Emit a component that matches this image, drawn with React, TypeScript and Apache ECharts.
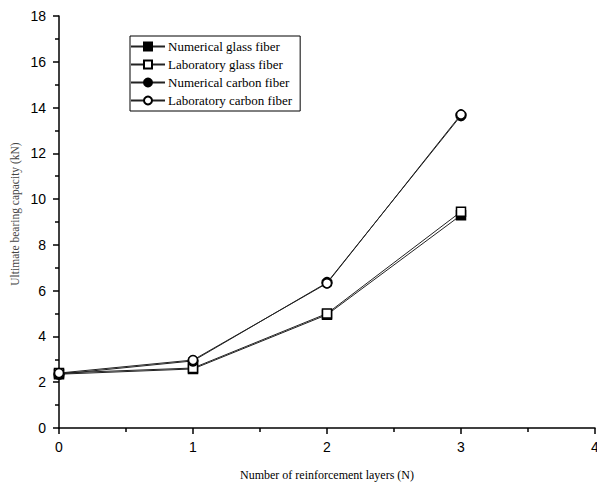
import React, { useEffect, useRef } from "react";
import * as echarts from "echarts";

const layers = [0, 1, 2, 3];
const numericalGlass = [2.35, 2.58, 4.95, 9.3];
const laboratoryGlass = [2.4, 2.62, 5.0, 9.45];
const numericalCarbon = [2.35, 2.93, 6.35, 13.65];
const laboratoryCarbon = [2.4, 2.97, 6.32, 13.7];
const seriesNames = [
  "Numerical glass fiber",
  "Laboratory glass fiber",
  "Numerical carbon fiber",
  "Laboratory carbon fiber",
];

const pair = (ys: number[]) => layers.map((x, i) => [x, ys[i]]);

export default function App() {
  const ref = useRef<HTMLDivElement>(null);
  useEffect(() => {
    if (!ref.current) return;
    const chart = echarts.init(ref.current, null, { renderer: "svg" });
    const mk = (
      name: string,
      data: number[],
      symbol: string,
      filled: boolean,
      size: number,
      z: number
    ) => ({
      name,
      type: "line",
      data: pair(data),
      symbol,
      symbolSize: size,
      showAllSymbol: true,
      z,
      lineStyle: { color: "#222", width: 1 },
      itemStyle: {
        color: filled ? "#000" : "#fff",
        borderColor: "#000",
        borderWidth: 1.5,
      },
      emphasis: { disabled: true },
    });
    chart.setOption({
      animation: false,
      backgroundColor: "#fff",
      grid: {
        left: 59,
        right: 2,
        top: 16,
        bottom: 54,
        containLabel: false,
        outerBoundsMode: "none",
      },
      legend: {
        orient: "vertical",
        left: 130,
        top: 36,
        padding: [4, 8, 4, 0],
        itemGap: 5,
        itemWidth: 34,
        itemHeight: 10,
        borderColor: "#000",
        borderWidth: 1,
        data: seriesNames,
        textStyle: {
          fontFamily: "Liberation Serif",
          fontSize: 13,
          color: "#000",
          padding: [0, 0, 0, -2],
        },
      },
      xAxis: {
        type: "value",
        min: 0,
        max: 4,
        interval: 1,
        name: "Number of reinforcement layers (N)",
        nameLocation: "middle",
        nameGap: 41,
        nameTextStyle: {
          fontFamily: "Liberation Serif",
          fontSize: 12,
          color: "#000",
        },
        axisLine: { lineStyle: { color: "#000", width: 1.5 } },
        axisTick: { show: true, length: 6, lineStyle: { color: "#000", width: 1.5 } },
        minorTick: { show: true, splitNumber: 2, length: 4, lineStyle: { color: "#000", width: 1.5 } },
        axisLabel: {
          margin: 12,
          fontFamily: "Liberation Sans",
          fontSize: 14,
          color: "#000",
          showMaxLabel: true,
        },
        splitLine: { show: false },
      },
      yAxis: {
        type: "value",
        min: 0,
        max: 18,
        interval: 2,
        axisLine: { show: true, lineStyle: { color: "#000", width: 1.5 } },
        axisTick: { show: true, length: 6, lineStyle: { color: "#000", width: 1.5 } },
        minorTick: { show: true, splitNumber: 2, length: 4, lineStyle: { color: "#000", width: 1.5 } },
        axisLabel: {
          margin: 13,
          fontFamily: "Liberation Sans",
          fontSize: 14,
          color: "#000",
        },
        splitLine: { show: false },
      },
      graphic: [
        {
          type: "text",
          x: 15,
          y: 214,
          rotation: Math.PI / 2,
          style: {
            text: "Ultimate bearing capacity (kN)",
            fontFamily: "Liberation Serif",
            fontSize: 11.5,
            fill: "#444",
            align: "center",
            verticalAlign: "middle",
          },
        },
      ],
      series: [
        mk(seriesNames[0], numericalGlass, "rect", true, 9, 2),
        mk(seriesNames[1], laboratoryGlass, "rect", false, 9, 3),
        mk(seriesNames[2], numericalCarbon, "circle", true, 10, 4),
        mk(seriesNames[3], laboratoryCarbon, "circle", false, 9, 5),
      ],
    });
    return () => chart.dispose();
  }, []);
  return (
    <div
      ref={ref}
      style={{ position: "fixed", left: 0, top: 0, width: 597, height: 482 }}
    />
  );
}
